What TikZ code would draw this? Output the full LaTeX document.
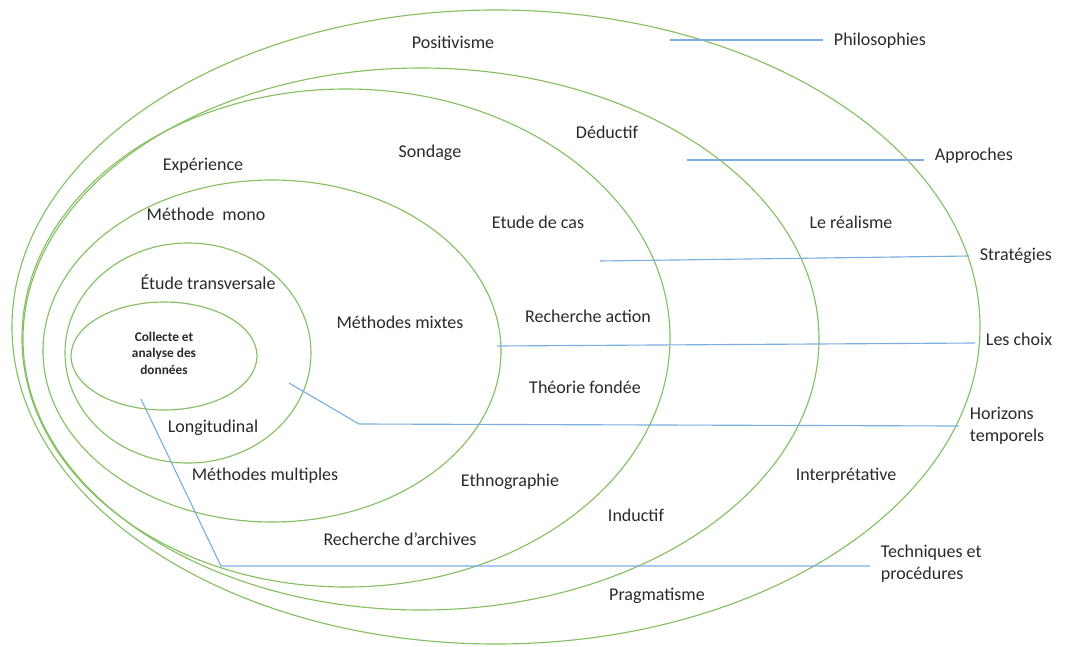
\documentclass[tikz,border=0pt]{standalone}
\usepackage{fontspec}
\setmainfont{Carlito}
\definecolor{ringgreen}{HTML}{84C062}
\definecolor{leaderblue}{HTML}{7AAFE0}
\definecolor{ink}{HTML}{2A2A2A}
\begin{document}
\begin{tikzpicture}[x=0.75pt,y=-0.75pt,
  ring/.style={draw=ringgreen, line width=0.85pt},
  leader/.style={draw=leaderblue, line width=0.85pt},
  lbl/.style={text=ink, inner sep=0pt, font=\fontsize{13.5}{16}\selectfont},
  side/.style={text=ink, anchor=west, inner ysep=0pt, inner xsep=8pt, align=left,
    font=\fontsize{13.5}{16.5}\selectfont},
  core/.style={text=ink, inner sep=0pt, align=center,
    font=\fontsize{10}{12.4}\selectfont\bfseries},
]
\useasboundingbox (0,0) rectangle (1077,646);

% nested rings, outermost first
\draw[ring] (496,327) ellipse [x radius=484, y radius=317];
\draw[ring] (421,339) ellipse [x radius=398, y radius=271];
\draw[ring] (346,338) ellipse [x radius=324, y radius=249];
\draw[ring] (272,351) ellipse [x radius=229, y radius=171];
\draw[ring] (188,353) ellipse [x radius=123, y radius=110];
\draw[ring] (164,356) ellipse [x radius=93,  y radius=54];

% centre
\node[core] (core) at (164,353) {Collecte et\\analyse des\\données};

% ring contents
\node[lbl] (positivisme) at (453,42)  {Positivisme};
\node[lbl] (deductif)    at (607,132) {Déductif};
\node[lbl] (sondage)     at (430,153) {Sondage};
\node[lbl] (experience)  at (203,166) {Expérience};
\node[lbl] (mono)        at (206,214) {Méthode\ \ mono};
\node[lbl] (cas)         at (538,222) {Etude de cas};
\node[lbl] (realisme)    at (851,222) {Le réalisme};
\node[lbl] (transv)      at (208,282) {Étude transversale};
\node[lbl] (action)      at (588,316) {Recherche action};
\node[lbl] (mixtes)      at (400,322) {Méthodes mixtes};
\node[lbl] (fondee)      at (585,387) {Théorie fondée};
\node[lbl] (longit)      at (213,428) {Longitudinal};
\node[lbl] (multiples)   at (265,476) {Méthodes multiples};
\node[lbl] (interp)      at (846,476) {Interprétative};
\node[lbl] (ethno)       at (510,482) {Ethnographie};
\node[lbl] (inductif)    at (636,515) {Inductif};
\node[lbl] (archives)    at (400,539) {Recherche d'archives};
\node[lbl] (pragma)      at (657,596) {Pragmatisme};

% layer names on the right
\node[side] (philo)  at (823,41)  {Philosophies};
\node[side] (appr)   at (924,156) {Approches};
\node[side] (strat)  at (969,256) {Stratégies};
\node[side] (choix)  at (975,339) {Les choix};
\node[side] (horiz)  at (959,426) {Horizons\\temporels};
\node[side] (techn)  at (870,564) {Techniques et\\procédures};

% leader lines
\coordinate (pphilo) at (670,40);
\coordinate (pappr)  at (687,160);
\coordinate (pstrat) at (600,261);
\coordinate (pchoix) at (497,346);
\coordinate (phoriz) at (289,383);
\coordinate (bhoriz) at (359,424);
\coordinate (ptechn) at (141,399);
\coordinate (btechn) at (221,566);

\draw[leader] (pphilo) -- (philo.west |- pphilo);
\draw[leader] (pappr)  -- ([yshift=-3pt]appr.west);
\draw[leader] (pstrat) -- (strat.west);
\draw[leader] (pchoix) -- ([yshift=-3pt]choix.west);
\draw[leader] (phoriz) -- (bhoriz) -- (horiz.west);
\draw[leader] (ptechn) -- (btechn) -- (techn.west |- btechn);
\end{tikzpicture}
\end{document}
